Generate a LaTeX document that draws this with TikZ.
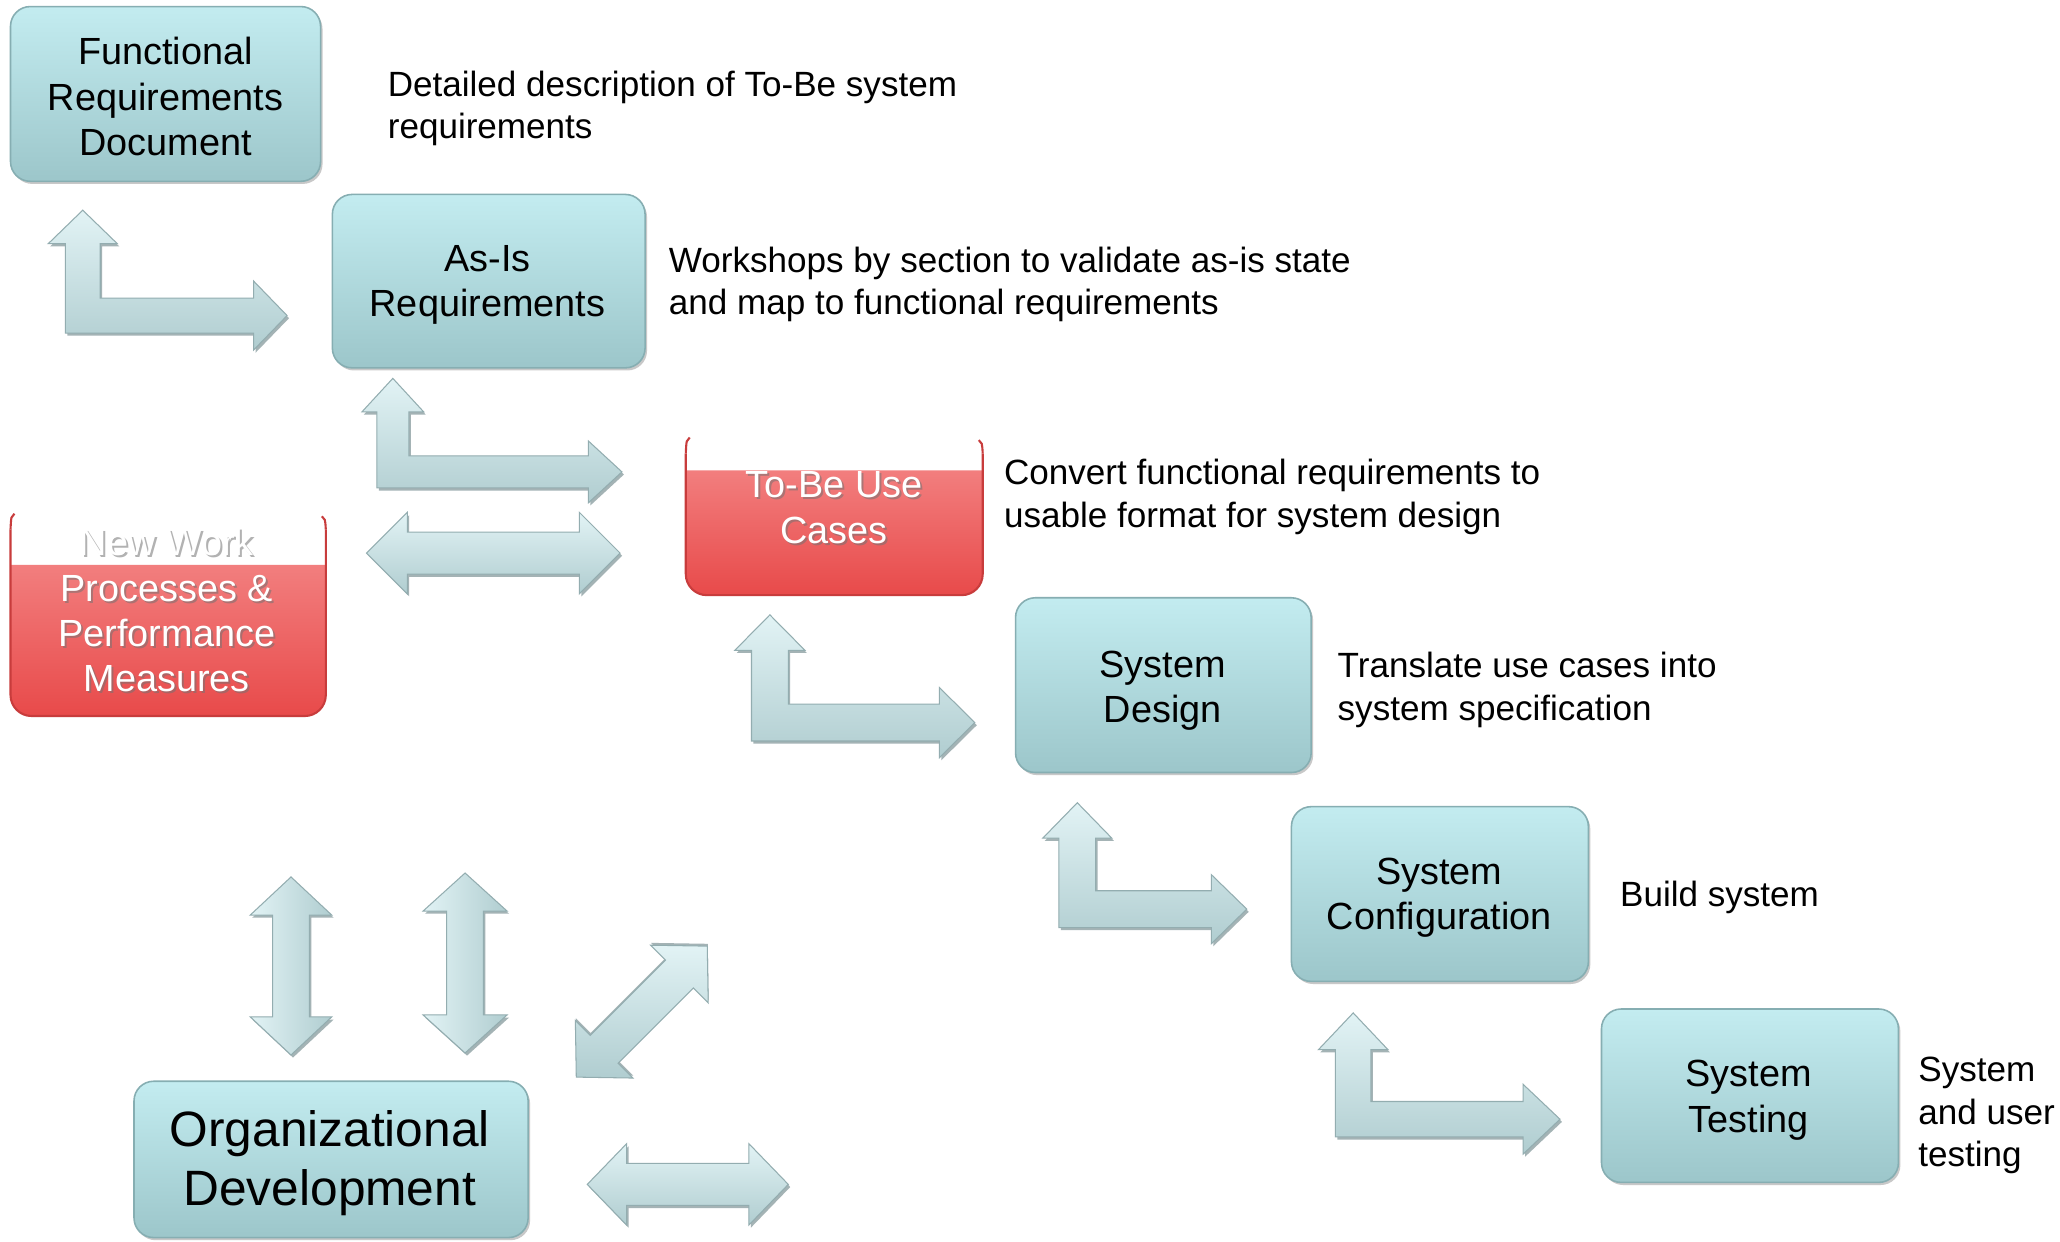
\documentclass[tikz,border=0pt]{standalone}
\usepackage{fontspec}
\setmainfont{Liberation Sans}
\usetikzlibrary{shadows}
\definecolor{tealtop}{HTML}{C3ECF0}
\definecolor{tealbot}{HTML}{9CC6CA}
\definecolor{tealedge}{HTML}{86AEB2}
\definecolor{redtop}{HTML}{F27E7E}
\definecolor{redbot}{HTML}{E84A4A}
\definecolor{rededge}{HTML}{C83C3C}
\definecolor{arrtop}{HTML}{E2F3F5}
\definecolor{arrbot}{HTML}{B0CDD0}
\definecolor{arredge}{HTML}{93ADB0}
\definecolor{arrshadow}{HTML}{7E9497}
% L-shaped arrow: tipx tipy bottom headtipx shafthalf headhalf headlen
\newcommand{\lpath}[7]{(#1,#2) -- ({#1+#6},{#2+#7}) -- ({#1+#5},{#2+#7}) -- ({#1+#5},{#3-2*#5}) -- ({#4-#7},{#3-2*#5}) -- ({#4-#7},{#3-#5-#6}) -- (#4,{#3-#5}) -- ({#4-#7},{#3-#5+#6}) -- ({#4-#7},#3) -- ({#1-#5},#3) -- ({#1-#5},{#2+#7}) -- ({#1-#6},{#2+#7}) -- cycle}
% horizontal double arrow: x1 x2 cy shafthalf headhalf headlen
\newcommand{\hpath}[6]{(#1,#3) -- ({#1+#6},{#3-#5}) -- ({#1+#6},{#3-#4}) -- ({#2-#6},{#3-#4}) -- ({#2-#6},{#3-#5}) -- (#2,#3) -- ({#2-#6},{#3+#5}) -- ({#2-#6},{#3+#4}) -- ({#1+#6},{#3+#4}) -- ({#1+#6},{#3+#5}) -- cycle}
% vertical double arrow: y1 y2 cx shafthalf headhalf headlen
\newcommand{\vpath}[6]{(#3,#1) -- ({#3+#5},{#1+#6}) -- ({#3+#4},{#1+#6}) -- ({#3+#4},{#2-#6}) -- ({#3+#5},{#2-#6}) -- (#3,#2) -- ({#3-#5},{#2-#6}) -- ({#3-#4},{#2-#6}) -- ({#3-#4},{#1+#6}) -- ({#3-#5},{#1+#6}) -- cycle}
\tikzset{
  tealbox/.style={rounded corners=15pt, draw=tealedge, line width=1.2pt,
    top color=tealtop, bottom color=tealbot, text=black, align=center,
    font=\fontsize{28.8}{34.5}\selectfont,
    drop shadow={shadow xshift=1.5pt, shadow yshift=-2pt, opacity=.3, fill=black!70}},
  boxtext/.style={text=black, align=center, font=\fontsize{28.8}{34.5}\selectfont},
  redfill/.style={top color=redtop, bottom color=redbot},
  rededgeline/.style={draw=rededge, line width=1.6pt},
  redtext/.style={text=white, align=center, font=\fontsize{28.8}{34.5}\selectfont},
  redshade/.style={text=black!55, opacity=.55, align=center, font=\fontsize{28.8}{34.5}\selectfont},
  lab/.style={anchor=west, inner sep=0pt, align=left, text=black,
    font=\fontsize{26.7}{32.5}\selectfont},
  arrmain/.style={draw=arredge, line width=0.8pt, top color=arrtop, bottom color=arrbot},
  arrmainv/.style={draw=arredge, line width=0.8pt, left color=arrtop, right color=arrbot},
  arrsh/.style={fill=arrshadow, opacity=.7},
}
\begin{document}
\begin{tikzpicture}[x=1pt, y=-1pt]
\fill[white] (0,0) rectangle (1568,945);
\useasboundingbox (0,0) rectangle (1568,945);

% ---------- red boxes ----------
% To-Be Use Cases
\path[redfill, rounded corners=16pt] (522,358) -- (522,453) -- (748,453) -- (748,358);
\draw[rededgeline, rounded corners=16pt] (522,345) -- (522,453) -- (748,453) -- (748,345);
\draw[rededgeline] (525,333) .. controls (522.5,335) .. (522,345);
\draw[rededgeline] (745,335) .. controls (747.5,337) .. (748,345);
\node[redshade] (tobes) at (636.5,388) {To-Be Use\\Cases};
\node[redtext] (tobe) at (635,386.5) {To-Be Use\\Cases};

% New Work Processes
\path[redfill, rounded corners=16pt] (8,430) -- (8,545) -- (248,545) -- (248,430);
\draw[rededgeline, rounded corners=16pt] (8,403) -- (8,545) -- (248,545) -- (248,403);
\draw[rededgeline] (11,391) .. controls (8.5,393) .. (8,403);
\draw[rededgeline] (245,393) .. controls (247.5,395) .. (248,403);
\node[redshade] (nwps) at (128.5,466) {New Work\\Processes \&\\Performance\\Measures};
\node[redtext] (nwp) at (127,464.5) {New Work\\Processes \&\\Performance\\Measures};

% ---------- teal boxes ----------
\node[tealbox, minimum width=236pt, minimum height=133pt] (frd) at (126,71.5) {};
\node[boxtext] (frdt) at (126,73.5) {Functional\\Requirements\\Document};
\node[tealbox, minimum width=238pt, minimum height=132pt] (asis) at (372,214) {};
\node[boxtext] (asist) at (371,217) {As-Is\\Requirements};
\node[tealbox, minimum width=225pt, minimum height=133pt] (sysd) at (885.5,521.5) {};
\node[boxtext] (sysdt) at (885,525.5) {System\\Design};
\node[tealbox, minimum width=226pt, minimum height=133pt] (sysc) at (1096,680.5) {};
\node[boxtext] (sysct) at (1095.5,683.5) {System\\Configuration};
\node[tealbox, minimum width=226pt, minimum height=132pt] (syst) at (1332,834) {};
\node[boxtext] (systt) at (1331,837.5) {System\\Testing};
\node[tealbox, minimum width=300pt, minimum height=119pt] (orgd) at (252,882.5) {};
\node[boxtext, font=\fontsize{37.8}{45}\selectfont] (orgdt) at (251,885.5) {Organizational\\Development};

% ---------- labels ----------
\node[lab] (l1) at (295,82.5) {Detailed description of To-Be system\\requirements};
\node[lab] (l2) at (509,216.5) {Workshops by section to validate as-is state\\and map to functional requirements};
\node[lab] (l3) at (764,378) {Convert functional requirements to\\usable format for system design};
\node[lab] (l4) at (1018,525) {Translate use cases into\\system specification};
\node[lab] (l5) at (1233,683) {Build system};
\node[lab] (l6) at (1460,849) {System\\and user\\testing};

% ---------- L arrows ----------
\fill[arrsh, shift={(1.5,2)}] \lpath{63}{160}{253.5}{218.5}{13.3}{26.3}{25.5};
\draw[arrmain] \lpath{63}{160}{253.5}{218.5}{13.3}{26.3}{25.5};
\fill[arrsh, shift={(1.5,2)}] \lpath{299}{288}{371.4}{473.4}{12.2}{23.5}{25.5};
\draw[arrmain] \lpath{299}{288}{371.4}{473.4}{12.2}{23.5}{25.5};
\fill[arrsh, shift={(1.5,2)}] \lpath{586}{468}{564}{742}{14}{26.7}{27};
\draw[arrmain] \lpath{586}{468}{564}{742}{14}{26.7}{27};
\fill[arrsh, shift={(1.5,2)}] \lpath{820}{611}{706}{949}{14}{26.3}{27};
\draw[arrmain] \lpath{820}{611}{706}{949}{14}{26.3}{27};
\fill[arrsh, shift={(1.5,2)}] \lpath{1030}{771}{865.4}{1187.4}{13.5}{26.5}{28};
\draw[arrmain] \lpath{1030}{771}{865.4}{1187.4}{13.5}{26.5}{28};

% ---------- double arrows ----------
\fill[arrsh, shift={(1.5,2)}] \hpath{279}{472}{421}{16}{31}{31};
\draw[arrmain] \hpath{279}{472}{421}{16}{31}{31};
\fill[arrsh, shift={(1.5,2)}] \hpath{447}{600}{901.5}{16}{31}{30};
\draw[arrmain] \hpath{447}{600}{901.5}{16}{31}{30};
\fill[arrsh, shift={(1.5,2)}] \vpath{667.5}{803}{221.5}{14}{31}{29};
\draw[arrmainv] \vpath{667.5}{803}{221.5}{14}{31}{29};
\fill[arrsh, shift={(1.5,2)}] \vpath{664.5}{801.5}{354}{14}{32}{29};
\draw[arrmainv] \vpath{664.5}{801.5}{354}{14}{32}{29};
\begin{scope}[shift={(488.5,770)}, rotate=45]
\fill[arrsh, shift={(1.5,-1)}] \hpath{-70.5}{70.5}{0}{15}{31}{30};
\draw[arrmain] \hpath{-70.5}{70.5}{0}{15}{31}{30};
\end{scope}
\end{tikzpicture}
\end{document}
